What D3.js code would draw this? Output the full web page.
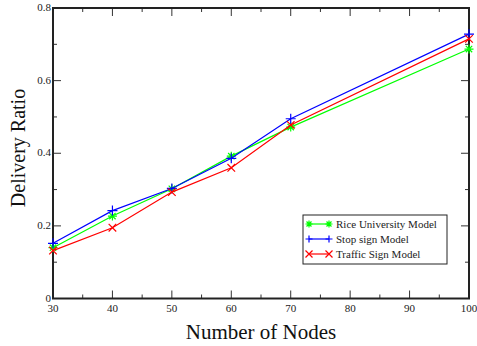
<!DOCTYPE html>
<html>
<head>
<meta charset="utf-8">
<script src="https://cdn.jsdelivr.net/npm/d3@7"></script>
<style>
  body { margin: 0; background: #fff; }
</style>
</head>
<body>
<svg id="chart" width="477" height="346"></svg>
<script>
const nodes = [30, 40, 50, 60, 70, 100];
const riceValues = [0.140, 0.227, 0.302, 0.392, 0.472, 0.687];
const stopValues = [0.152, 0.242, 0.303, 0.386, 0.495, 0.728];
const trafficValues = [0.132, 0.195, 0.293, 0.360, 0.478, 0.715];
const xTicks = [30, 40, 50, 60, 70, 80, 90, 100];
const yTicks = [0, 0.2, 0.4, 0.6, 0.8];

const series = [
  { name: "Rice University Model", values: riceValues, color: "#00ff00", marker: "star" },
  { name: "Stop sign Model", values: stopValues, color: "#0000ff", marker: "plus" },
  { name: "Traffic Sign Model", values: trafficValues, color: "#ff0000", marker: "cross" }
];

const MARGIN = { left: 53, right: 8, top: 8, bottom: 47.5 };
const WIDTH = 477 - MARGIN.left - MARGIN.right;
const HEIGHT = 346 - MARGIN.top - MARGIN.bottom;
const SERIF = "'Liberation Serif', 'Times New Roman', 'DejaVu Serif', serif";

const svg = d3.select("#chart")
  .style("font-family", SERIF)
  .attr("font-family", SERIF);
const g = svg.append("g").attr("transform", `translate(${MARGIN.left},${MARGIN.top})`);

const x = d3.scaleLinear().domain([30, 100]).range([0, WIDTH]);
const y = d3.scaleLinear().domain([0, 0.8]).range([HEIGHT, 0]);

// minor + major ticks, pointing inward on all four sides
const tickColor = "#333";
const drawTicks = function(values, len, horizontal) {
  values.forEach(v => {
    if (horizontal) {
      g.append("line").attr("x1", x(v)).attr("x2", x(v)).attr("y1", HEIGHT).attr("y2", HEIGHT - len)
        .attr("stroke", tickColor).attr("stroke-width", 1);
      g.append("line").attr("x1", x(v)).attr("x2", x(v)).attr("y1", 0).attr("y2", len)
        .attr("stroke", tickColor).attr("stroke-width", 1);
    } else {
      g.append("line").attr("x1", 0).attr("x2", len).attr("y1", y(v)).attr("y2", y(v))
        .attr("stroke", tickColor).attr("stroke-width", 1);
      g.append("line").attr("x1", WIDTH).attr("x2", WIDTH - len).attr("y1", y(v)).attr("y2", y(v))
        .attr("stroke", tickColor).attr("stroke-width", 1);
    }
  });
};
drawTicks(d3.range(35, 100, 10), 4, true);
drawTicks(xTicks.slice(1, -1), 8, true);
drawTicks([0.1, 0.3, 0.5, 0.7], 4, false);
drawTicks(yTicks.slice(1, -1), 8, false);

g.append("rect").attr("width", WIDTH).attr("height", HEIGHT)
  .attr("fill", "none").attr("stroke", "#222").attr("stroke-width", 2);

// tick labels
g.selectAll(".xlabel").data(xTicks).enter().append("text")
  .attr("x", d => x(d)).attr("y", HEIGHT + 13)
  .attr("text-anchor", "middle").attr("font-size", 11).attr("fill", "#222")
  .text(d => d);

g.selectAll(".ylabel").data(yTicks).enter().append("text")
  .attr("x", -2).attr("y", d => y(d) + 3)
  .attr("text-anchor", "end").attr("font-size", 11).attr("fill", "#222")
  .text(d => d === 0 ? "0" : d3.format(".1f")(d));

// axis titles
g.append("text").attr("x", WIDTH / 2).attr("y", HEIGHT + 40)
  .attr("text-anchor", "middle").attr("font-size", 21).attr("fill", "#111").text("Number of Nodes");
g.append("text").attr("transform", "rotate(-90)")
  .attr("x", -140).attr("y", -28)
  .attr("text-anchor", "middle").attr("font-size", 20).attr("fill", "#111").text("Delivery Ratio");

const markerPath = function(type, s) {
  if (type === "plus") return `M${-s},0H${s}M0,${-s}V${s}`;
  if (type === "cross") return `M${-s},${-s}L${s},${s}M${-s},${s}L${s},${-s}`;
  const d = s * 0.707;
  return `M${-s},0H${s}M0,${-s}V${s}M${-d},${-d}L${d},${d}M${-d},${d}L${d},${-d}`;
};
const markerSize = { star: 4.5, plus: 5, cross: 3.8 };

const line = d3.line().x((d, i) => x(nodes[i])).y(d => y(d));

series.forEach(s => {
  g.append("path").datum(s.values).attr("d", line)
    .attr("fill", "none").attr("stroke", s.color).attr("stroke-width", 1.2);
  g.selectAll(null).data(s.values).enter().append("path")
    .attr("transform", (d, i) => `translate(${x(nodes[i])},${y(d)})`)
    .attr("d", markerPath(s.marker, markerSize[s.marker]))
    .attr("stroke", s.color).attr("stroke-width", 1.2).attr("fill", "none");
});

// legend
const legend = svg.append("g").attr("transform", "translate(303,215)");
legend.append("rect").attr("width", 144).attr("height", 49)
  .attr("fill", "#fff").attr("stroke", "#222").attr("stroke-width", 1);
series.forEach((s, i) => {
  const ly = 9 + i * 15;
  legend.append("line").attr("x1", 6).attr("x2", 26).attr("y1", ly).attr("y2", ly)
    .attr("stroke", s.color).attr("stroke-width", 1.2);
  [6, 26].forEach(mx => {
    legend.append("path").attr("transform", `translate(${mx},${ly})`)
      .attr("d", markerPath(s.marker, 3.5))
      .attr("stroke", s.color).attr("stroke-width", 1.2).attr("fill", "none");
  });
  legend.append("text").attr("x", 33).attr("y", ly + 3.5)
    .attr("font-size", 11).attr("fill", "#222").text(s.name);
});
</script>
</body>
</html>
